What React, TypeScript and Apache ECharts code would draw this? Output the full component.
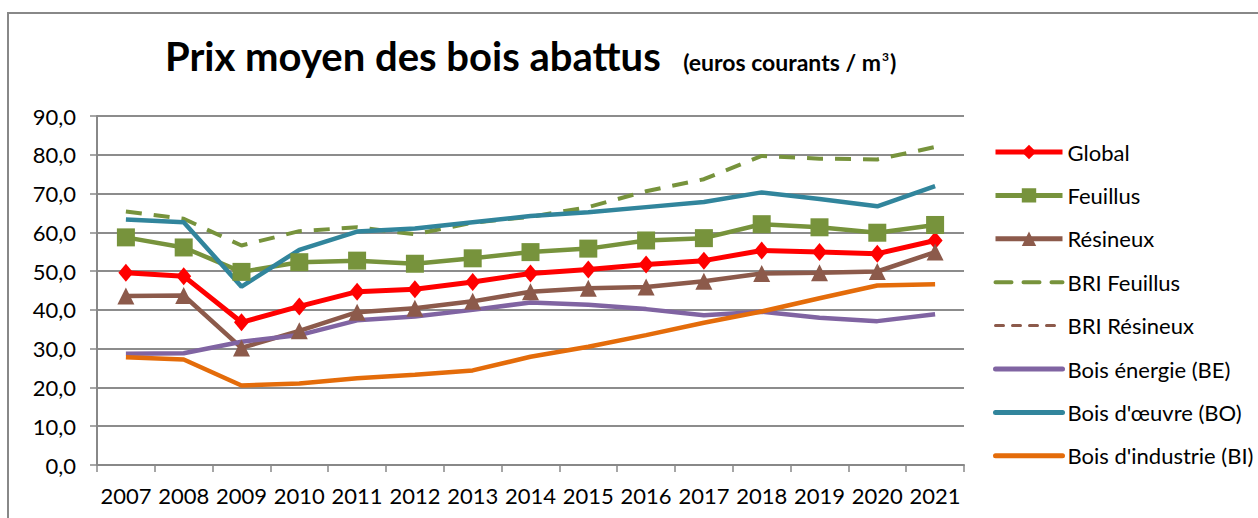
import React, { useEffect, useRef } from "react";
import * as echarts from "echarts";

const years = ["2007","2008","2009","2010","2011","2012","2013","2014","2015","2016","2017","2018","2019","2020","2021"];
const globalVals = [49.6, 48.7, 36.8, 40.9, 44.7, 45.3, 47.2, 49.4, 50.4, 51.7, 52.7, 55.3, 54.9, 54.5, 57.9];
const feuillusVals = [58.7, 56.1, 49.8, 52.3, 52.7, 51.9, 53.3, 54.9, 55.8, 57.9, 58.5, 62.1, 61.3, 59.9, 61.9];
const resineuxVals = [43.6, 43.7, 30.2, 34.6, 39.4, 40.4, 42.2, 44.7, 45.6, 45.9, 47.4, 49.4, 49.6, 49.9, 54.9];
const briFeuillusVals = [65.4, 63.5, 56.6, 60.3, 61.3, 59.5, 62.5, 64.0, 66.5, 70.6, 73.7, 79.7, 79.0, 78.8, 82.0];
const briResineuxVals: (number | null)[] = [null, null, null, null, null, null, null, null, null, null, null, null, null, null, null];
const beVals = [28.7, 28.8, 31.8, 33.5, 37.3, 38.3, 40.0, 41.9, 41.3, 40.2, 38.6, 39.5, 38.0, 37.1, 38.9];
const boVals = [63.3, 62.6, 46.0, 55.5, 60.2, 61.0, 62.6, 64.2, 65.2, 66.5, 67.8, 70.3, 68.6, 66.7, 71.9];
const biVals = [27.8, 27.2, 20.5, 21.0, 22.4, 23.3, 24.4, 27.9, 30.5, 33.5, 36.7, 39.6, 43.0, 46.3, 46.6];
const yTicks = { min: 0, max: 90, interval: 10 };

const FONT = "Lato";

export default function App() {
  const ref = useRef<HTMLDivElement>(null);
  useEffect(() => {
    if (!ref.current) return;
    const chart = echarts.init(ref.current, null, { renderer: "svg" });
    const RED = "#FF0000", GREEN = "#77933C", BROWN = "#8C5A4B", PURPLE = "#8064A2", TEAL = "#31859C", ORANGE = "#E46C0A";
    const mk = (name: string, data: (number | null)[], color: string, width: number, symbol: string, size: any, dash?: any) => ({
      name,
      type: "line",
      data,
      symbol,
      symbolSize: size,
      showSymbol: symbol !== "none",
      itemStyle: { color },
      lineStyle: { color, width, type: dash || "solid", cap: "butt" },
      emphasis: { disabled: true },
    });
    const series = [
      mk("Global", globalVals, RED, 5, "diamond", [15, 18]),
      mk("Feuillus", feuillusVals, GREEN, 4.5, "rect", 18),
      mk("Résineux", resineuxVals, BROWN, 4.5, "triangle", 17),
      mk("BRI Feuillus", briFeuillusVals, GREEN, 4, "none", 0, [16, 12]),
      mk("BRI Résineux", briResineuxVals, BROWN, 3, "none", 0, [8, 9]),
      mk("Bois énergie (BE)", beVals, PURPLE, 4.5, "none", 0),
      mk("Bois d'œuvre (BO)", boVals, TEAL, 4.5, "none", 0),
      mk("Bois d'industrie (BI)", biVals, ORANGE, 4.5, "none", 0),
    ];
    const legendData = series.map((s) =>
      s.symbol === "none"
        ? { name: s.name, itemStyle: { opacity: 0 }, lineStyle: { width: s.name.startsWith("BRI") ? (s.lineStyle.width as number) : 5, type: s.lineStyle.type, cap: "round" } }
        : { name: s.name, lineStyle: { width: 5 } }
    );
    chart.setOption({
      animation: false,
      backgroundColor: "#fff",
      textStyle: { fontFamily: FONT },
      graphic: [
        { type: "rect", shape: { x: 8, y: 13, width: 1262, height: 520 }, style: { fill: "none", stroke: "#888", lineWidth: 2 }, silent: true },
        { type: "text", x: 165, y: 36, style: { text: "Prix moyen des bois abattus", font: `bold 40px ${FONT}`, fill: "#000", textAlign: "left", textVerticalAlign: "top" } },
        { type: "text", x: 881, y: 50, style: { text: "(euros courants / m", font: `bold 23px ${FONT}`, fill: "#000", textAlign: "right", textVerticalAlign: "top" } },
        { type: "text", x: 882, y: 50, style: { text: "3", font: `bold 12px ${FONT}`, fill: "#000", textAlign: "left", textVerticalAlign: "top" } },
        { type: "text", x: 890, y: 50, style: { text: ")", font: `bold 23px ${FONT}`, fill: "#000", textAlign: "left", textVerticalAlign: "top" } },
      ],
      grid: { left: 97, right: 294, top: 116, bottom: 53, containLabel: false },
      legend: {
        orient: "vertical",
        left: 993,
        top: 141,
        padding: 0,
        itemWidth: 67,
        itemHeight: 18,
        itemGap: 21.4,
        data: legendData,
        textStyle: { fontFamily: FONT, fontSize: 22, color: "#000" },
        selectedMode: false,
      },
      xAxis: {
        type: "category",
        data: years,
        boundaryGap: true,
        axisLine: { lineStyle: { color: "#888", width: 2 } },
        axisTick: { show: true, alignWithLabel: false, length: 7, lineStyle: { color: "#888", width: 1.5 } },
        axisLabel: { fontFamily: FONT, fontSize: 22, color: "#000", margin: 19, interval: 0 },
      },
      yAxis: {
        type: "value",
        min: yTicks.min,
        max: yTicks.max,
        interval: yTicks.interval,
        axisLine: { show: true, lineStyle: { color: "#888", width: 2 } },
        axisTick: { show: true, length: 7, lineStyle: { color: "#888", width: 1.5 } },
        axisLabel: { fontFamily: FONT, fontSize: 22, color: "#000", margin: 21, formatter: (v: number) => v.toFixed(1).replace(".", ",") },
        splitLine: { show: true, lineStyle: { color: "#8c8c8c", width: 1.8 } },
      },
      series,
    });
    return () => chart.dispose();
  }, []);
  return <div ref={ref} style={{ position: "absolute", left: 0, top: 0, width: 1258, height: 518 }} />;
}
